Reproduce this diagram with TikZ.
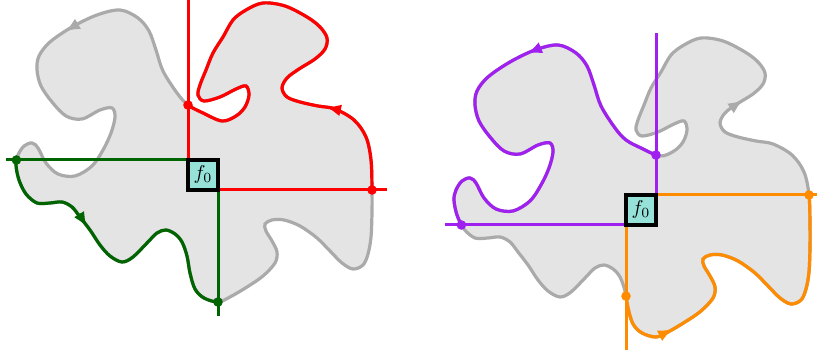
\documentclass[tikz,border=0pt]{standalone}
\usetikzlibrary{calc, intersections, arrows.meta}

\begin{document}
\begin{tikzpicture}[x=0.5pt, y=-0.5pt]
    % Define colors
    \definecolor{fillColour}{HTML}{E4E4E4}
    \definecolor{edgeColour}{HTML}{AAAAAA}
    \definecolor{boxColour}{HTML}{96E2D9}
    \definecolor{redColour}{HTML}{FF0000}
    \definecolor{greenColour}{HTML}{006400}
    \definecolor{purpleColour}{HTML}{A020F0}
    \definecolor{orangeColour}{HTML}{FF8C00}

    % Define styles
    \tikzset{
        rim/.style={line width=1.6pt},
        cutline/.style={line width=1.5pt},
        arrowtip/.style={line width=1.5pt, -{Latex[length=7.5pt, width=6pt]}},
        fzero/.style={draw=black, line width=1.6pt, fill=boxColour,
            minimum size=15pt, inner sep=0pt},
    }

    % Define the region's boundary (pixels, starting on the right side)
    \def\blob{plot[smooth cycle, tension=0.55] coordinates {
        (372,190) (371,160) (366,137) (354,120) (335,109) (318,106) (300,102)
        (287,97) (282,88) (287,78) (299,69) (315,59) (325,49) (327,38) (320,27)
        (307,17) (285,6) (263,3) (246,10) (233,20) (223,37) (213,53) (206,70)
        (200,85) (198,95) (204,101) (220,97) (236,89) (246,86) (249,95)
        (245,107) (236,116) (222,121) (203,113) (188,105) (177,93) (163,71)
        (156,50) (149,31) (138,18) (120,10) (97,15) (72,27) (50,42) (39,56)
        (37,70) (41,86) (52,102) (66,116) (82,119) (100,110) (112,108)
        (115,117) (111,133) (103,150) (92,166) (75,176) (58,174) (46,163)
        (38,148) (32,143) (24,146) (18,155) (16,165) (19,180) (26,194)
        (37,203) (50,203) (62,202) (72,207) (80,217) (90,230) (100,245)
        (110,256) (122,262) (133,257) (147,243) (157,233) (166,230) (175,234)
        (182,242) (187,256) (190,273) (195,289) (204,298) (218,302) (230,297)
        (247,287) (263,276) (275,263) (277,252) (272,241) (266,231) (265,224)
        (272,220) (284,220) (300,226) (317,238) (330,251) (342,263) (353,269)
        (363,265) (368,254) (371,237) (372,212)}}

    % Fix the page size
    \useasboundingbox (0,0) rectangle (817,356);

    % Left copy: red and green paths
    \begin{scope}
        \coordinate (nwL) at (188,160);
        \coordinate (seL) at (218,190);

        % Draw region
        \filldraw[fill=fillColour, draw=edgeColour, rim, name path=blobL] \blob;

        % Colour the red part of the boundary
        \begin{scope}
            \clip (188,-10) rectangle (400,190);
            \draw[redColour, rim] \blob;
        \end{scope}
        % Colour the green part of the boundary
        \begin{scope}
            \clip (-10,160) -- (28,160) -- (38,186) -- (110,186) -- (118,160)
                -- (218,160) -- (218,340) -- (-10,340) -- cycle;
            \draw[greenColour, rim] \blob;
        \end{scope}

        % Draw cuts
        \draw[cutline, redColour, name path=redV] (nwL) -- +(0,-160);
        \draw[cutline, redColour, name path=redH] (seL) -- +(169,0);
        \draw[cutline, greenColour, name path=greenH] (nwL) -- +(-182,0);
        \draw[cutline, greenColour, name path=greenV] (seL) -- +(0,126);

        % Direction arrows
        \draw[arrowtip, edgeColour] (76,25) -- (65,31.5);
        \draw[arrowtip, redColour] (339,110) -- (326,107);
        \draw[arrowtip, greenColour] (79,214) -- (87,227);

        % Mark crossings
        \fill[redColour, name intersections={of=blobL and redV, sort by=redV}] (intersection-1) circle (2.4pt);
        \fill[redColour, name intersections={of=blobL and redH, sort by=redH}] (intersection-1) circle (2.4pt);
        \fill[greenColour, name intersections={of=blobL and greenH, sort by=greenH, total=\t}] (intersection-\t) circle (2.4pt);
        \fill[greenColour, name intersections={of=blobL and greenV, sort by=greenV}] (intersection-1) circle (2.4pt);

        % Draw box
        \node[fzero] (f0L) at ($(nwL)!0.5!(seL)$) {$f_0$};
    \end{scope}

    % Right copy: purple and orange paths
    \begin{scope}[shift={(438,35)}]
        \coordinate (neR) at (218,160);
        \coordinate (swR) at (188,190);

        % Draw region
        \filldraw[fill=fillColour, draw=edgeColour, rim, name path=blobR] \blob;

        % Colour the purple part of the boundary
        \begin{scope}
            \clip (-10,-10) -- (190,-10) -- (190,100) -- (218,108) -- (218,190)
                -- (-10,190) -- cycle;
            \draw[purpleColour, rim] \blob;
        \end{scope}
        % Colour the orange part of the boundary
        \begin{scope}
            \clip (188,160) rectangle (400,340);
            \draw[orangeColour, rim] \blob;
        \end{scope}

        % Draw cuts
        \draw[cutline, purpleColour, name path=purpleV] (neR) -- +(0,-162);
        \draw[cutline, purpleColour, name path=purpleH] (swR) -- +(-181,0);
        \draw[cutline, orangeColour, name path=orangeH] (neR) -- +(162,0);
        \draw[cutline, orangeColour, name path=orangeV] (swR) -- +(0,125);

        % Direction arrows
        \draw[arrowtip, edgeColour] (294,72.5) -- (305,65);
        \draw[arrowtip, purpleColour] (101,13.5) -- (89,18.5);
        \draw[arrowtip, orangeColour] (222,300.5) -- (235,294);

        % Mark crossings
        \fill[purpleColour, name intersections={of=blobR and purpleV, sort by=purpleV}] (intersection-1) circle (2.4pt);
        \fill[purpleColour, name intersections={of=blobR and purpleH, sort by=purpleH}] (intersection-1) circle (2.4pt);
        \fill[orangeColour, name intersections={of=blobR and orangeH, sort by=orangeH}] (intersection-1) circle (2.4pt);
        \fill[orangeColour, name intersections={of=blobR and orangeV, sort by=orangeV}] (intersection-1) circle (2.4pt);

        % Draw box
        \node[fzero] (f0R) at ($(neR)!0.5!(swR)$) {$f_0$};
    \end{scope}
\end{tikzpicture}
\end{document}
